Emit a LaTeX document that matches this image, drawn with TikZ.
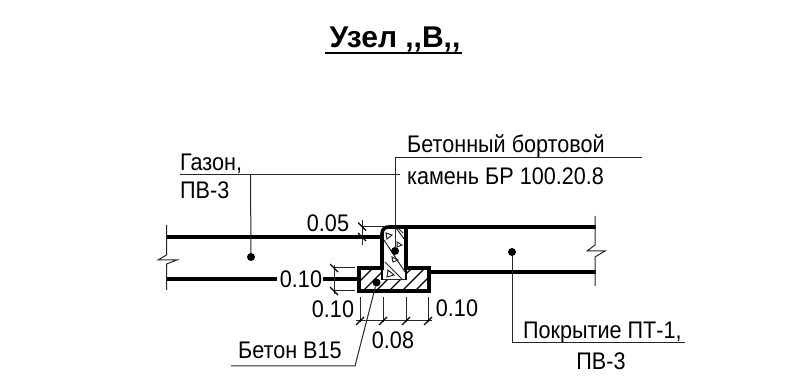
\documentclass[tikz,border=0pt]{standalone}
\usepackage{fontspec}
\setmainfont[FakeStretch=0.9,BoldFeatures={FakeStretch=1}]{Liberation Sans}
\usetikzlibrary{positioning}
\begin{document}
\begin{tikzpicture}[%
    x=1pt,
    y=-1pt,
    thin line/.style={line width=1pt,black!85},
    thick line/.style={line width=3.6pt},
    lbl/.style={inner sep=0pt,font=\fontsize{24}{26}\selectfont,text=black},
    blob/.style={circle,fill=black,inner sep=0pt,minimum size=8pt},
    tick/.style={line width=1.2pt}
  ]
    \useasboundingbox (0,0) rectangle (807,382);
    % title
    \node[inner sep=0pt,anchor=base,font=\bfseries\fontsize{30}{32}\selectfont] (title) at (395,48) {Узел ,{},В,{},};
    \coordinate (tl) at (325,53);
    \coordinate (tr) at (462,53);
    \draw[line width=1.6pt] (tl) -- (tr);

    % pavement layers
    \coordinate (gl1) at (166,237);
    \coordinate (gr1) at (382,237);
    \coordinate (gl2) at (166,279);
    \coordinate (gr2) at (277,279);
    \coordinate (gl3) at (323,279);
    \coordinate (gr3) at (359,279);
    \coordinate (pl1) at (406,227);
    \coordinate (pr1) at (596,227);
    \coordinate (pl2) at (429,272);
    \coordinate (pr2) at (596,272);
    \draw[thick line] (gl1) -- (gr1);
    \draw[thick line] (gl2) -- (gr2);
    \draw[thick line] (gl3) -- (gr3);
    \draw[thick line] (pl1) -- (pr1);
    \draw[thick line] (pl2) -- (pr2);

    % break lines
    \draw[thin line] (166.5,225) -- (166.5,255) -- (158,260) -- (177,260) -- (166.5,264) -- (166.5,290);
    \draw[thin line] (595,216) -- (595,245) -- (587,251) -- (605,251) -- (595,257) -- (595,286);

    % slab hatching
    \begin{scope}
      \clip (359,268) rectangle (429,291);
      \foreach \xh in {350,363,376,389,402,415,428}{
        \draw[line width=1.1pt] (\xh,291) -- (\xh+23,268);
      }
    \end{scope}
    \fill[white] (382,226) rectangle (406,280);

    % curb filling
    \draw[thin line] (384,240) -- (405,272);
    \draw[thin line] (385,262) -- (403,280);
    \draw[thin line] (396,228) -- (405,240);
    \draw[thin line] (386,233) -- (392,235) -- (387,239) -- cycle;
    \draw[thin line] (397,242) -- (402,245) -- (397,247) -- cycle;
    \draw[thin line] (392,257) -- (398,260) -- (393,262) -- cycle;
    \draw[thin line] (388,270) -- (394,275) -- (387,277) -- cycle;
    \draw[thin line] (399,229) -- (403,233);

    % curb and slab
    \draw[thick line,line join=miter]
      (359,268) -- (382,268) -- (382,234) .. controls (382,229) and (385,227) .. (389,227)
      -- (406,227) -- (406,268) -- (429,268) -- (429,291) -- (359,291) -- cycle;
    \draw[thin line] (382,280) -- (406,280);
    \draw[line width=2pt] (382,268) -- (382,280);
    \draw[line width=2pt] (406,268) -- (406,280);

    % dots
    \node[blob] (gdot) at (251,257) {};
    \node[blob] (cdot) at (395,251) {};
    \node[blob] (sdot) at (376.5,282.5) {};
    \node[blob] (pdot) at (512,252) {};

    % leader text
    \node[lbl,anchor=base west] (gazon) at (180,171) {Газон,};
    \node[lbl,anchor=base west] (pv1) at (180,199) {ПВ-3};
    \node[lbl,anchor=base west] (curb1) at (407,153) {Бетонный бортовой};
    \node[lbl,anchor=base west] (curb2) at (407,185) {камень БР 100.20.8};
    \node[lbl,anchor=base west] (beton) at (238,359) {Бетон В15};
    \node[lbl,anchor=base west] (pokr) at (523,339) {Покрытие ПТ-1,};
    \node[lbl,anchor=base] (pv2) at (601,370) {ПВ-3};

    % leaders
    \coordinate (k1) at (395,158);
    \coordinate (k2) at (642,158);
    \coordinate (k3) at (180,174.5);
    \coordinate (k4) at (400,174.5);
    \coordinate (k5) at (250.5,174.5);
    \coordinate (k6) at (355,366);
    \coordinate (k7) at (231,366);
    \coordinate (k8) at (512,343);
    \coordinate (k9) at (685,343);
    \draw[thin line] (k2) -- (k1) -- (cdot);
    \draw[thin line] (k3) -- (k4);
    \draw[thin line] (k5) -- (gdot);
    \draw[thin line] (k7) -- (k6) -- (sdot);
    \draw[thin line] (k9) -- (k8) -- (pdot);

    % dimensions
    \node[lbl,anchor=base] (d05) at (328,232) {0.05};
    \node[lbl,anchor=base] (d10a) at (301,288) {0.10};
    \node[lbl,anchor=base] (d10b) at (333,318) {0.10};
    \node[lbl,anchor=base] (d10c) at (457,317) {0.10};
    \node[lbl,anchor=base] (d08) at (393,349) {0.08};

    \draw[thin line] (362,226.5) -- (385,226.5);
    \draw[thin line] (362,220) -- (362,245);
    \draw[tick] (358,222.5) -- (366,230.5);
    \draw[tick] (358,233) -- (366,241);

    \draw[thin line] (334,268) -- (355,268);
    \draw[thin line] (334,291) -- (355,291);
    \draw[thin line] (334,265) -- (334,294);
    \draw[tick] (330,264) -- (338,272);
    \draw[tick] (330,287) -- (338,295);

    \draw[thin line] (356,321) -- (432,321);
    \foreach \xd in {360,383,406,428}{
      \draw[thin line] (\xd,297) -- (\xd,322);
      \draw[tick] (\xd-4,325) -- (\xd+4,317);
    }
  \end{tikzpicture}
\end{document}
